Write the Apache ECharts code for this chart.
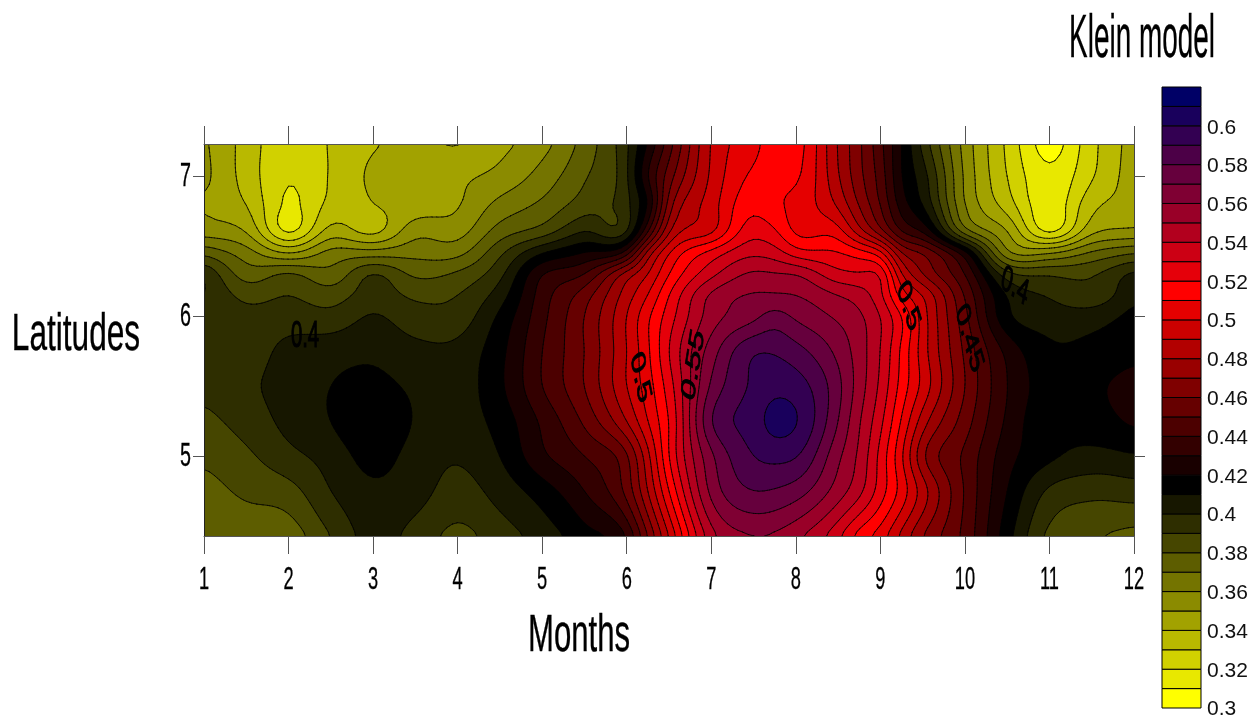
<!DOCTYPE html>
<html><head><meta charset="utf-8">
<style>html,body{margin:0;padding:0;background:#fff}#c{width:1260px;height:720px}</style>
<script src="https://cdn.jsdelivr.net/npm/echarts@6/dist/echarts.min.js"></script>
</head><body><div id="c"></div>
<script>
const months=[1,1.5,2,2.5,3,3.5,4,4.5,5,5.5,6,6.25,6.5,7,7.5,7.75,8,8.5,8.75,9,9.25,9.5,10,10.5,11,11.5,12];
const latitudes=[7.23,7.0,6.8,6.6,6.45,6.3,6.15,6.0,5.75,5.5,5.25,5.0,4.75,4.43];
const lat723=[.352,.336,.322,.331,.339,.342,.339,.347,.356,.374,.398,.421,.445,.491,.507,.515,.515,.479,.462,.443,.42,.397,.356,.328,.305,.327,.345];
const lat700=[.353,.336,.3205,.331,.342,.345,.348,.353,.364,.379,.398,.43,.455,.492,.512,.513,.512,.481,.463,.446,.42,.405,.358,.33,.312,.329,.346];
const lat680=[.35,.34,.318,.333,.34,.344,.349,.363,.372,.385,.397,.42,.465,.495,.517,.512,.507,.488,.469,.45,.425,.41,.36,.335,.313,.337,.345];
const lat660=[.356,.35,.318,.345,.337,.357,.356,.375,.385,.401,.399,.44,.48,.498,.527,.522,.508,.505,.485,.465,.44,.43,.375,.351,.318,.348,.353];
const lat645=[.378,.365,.35,.364,.365,.367,.367,.388,.41,.421,.435,.475,.50,.524,.538,.535,.525,.521,.515,.505,.47,.46,.425,.362,.36,.372,.38];
const lat630=[.40,.375,.382,.373,.391,.378,.382,.397,.43,.44,.475,.49,.51,.537,.552,.551,.55,.533,.531,.53,.49,.47,.44,.394,.389,.389,.403];
const lat615=[.401,.387,.39,.385,.395,.388,.39,.405,.435,.455,.485,.50,.52,.552,.561,.561,.56,.55,.545,.533,.505,.49,.449,.409,.399,.393,.408];
const lat600=[.398,.393,.395,.393,.401,.394,.394,.412,.437,.46,.49,.508,.525,.555,.567,.574,.568,.558,.552,.54,.52,.495,.453,.412,.405,.405,.413];
const lat575=[.395,.395,.403,.406,.408,.403,.403,.417,.44,.46,.49,.508,.53,.565,.589,.589,.584,.567,.555,.54,.518,.495,.458,.427,.412,.413,.417];
const lat550=[.393,.398,.404,.41,.413,.408,.405,.418,.44,.46,.49,.505,.525,.572,.592,.597,.595,.573,.555,.538,.516,.497,.46,.43,.415,.418,.424];
const lat525=[.387,.394,.403,.41,.4205,.409,.405,.414,.432,.452,.48,.50,.52,.58,.595,.604,.601,.57,.551,.533,.509,.485,.455,.428,.412,.415,.422];
const lat500=[.382,.388,.397,.404,.414,.406,.401,.41,.428,.44,.458,.487,.52,.568,.59,.593,.591,.562,.548,.527,.502,.472,.448,.424,.412,.407,.409];
const lat475=[.376,.382,.386,.40,.408,.404,.396,.404,.415,.43,.453,.48,.51,.563,.58,.579,.575,.555,.543,.525,.506,.485,.449,.42,.398,.393,.395];
const lat443=[.375,.373,.374,.39,.404,.396,.387,.395,.404,.416,.43,.46,.49,.546,.559,.558,.552,.532,.515,.505,.487,.47,.447,.414,.387,.381,.376];
const modelRows=[lat723,lat700,lat680,lat660,lat645,lat630,lat615,lat600,lat575,lat550,lat525,lat500,lat475,lat443];

const bandStarts=[.30,.31,.32,.33,.34,.35,.36,.37,.38,.39,.40,.41,.42,.43,.44,.45,.46,.47,.48,.49,.50,.51,.52,.53,.54,.55,.56,.57,.58,.59,.60,.61];
const bandColors=['#ffff00','#e8e800','#d1d100','#b9b900','#a2a200','#8b8b00','#747400','#5d5d00','#464600','#2e2e00','#171700','#000000',
 '#190000','#330000','#4c0000','#660000','#7f0000','#990000','#b20000','#cc0000','#e50000','#ff0000',
 '#e5000a','#cc0014','#b2001e','#990028','#7f0033','#66003d','#4c0047','#330052','#19005c','#000066'];
const monthTicks=[1,2,3,4,5,6,7,8,9,10,11,12];
const latTicks=[5,6,7];
const contourLabelText=['0.4','0.5','0.55','0.5','0.45','0.4'];
const contourLabelMonth=[2.195,6.16,6.79,9.33,10.05,10.59];
const contourLabelLat=[5.85,5.56,5.65,6.07,5.84,6.21];
const contourLabelAngle=[0,-70,74,-61,-63,-22];

const latMin=4.43, latMax=7.23;

// Smooth cubic curve through the read values, used only to draw the contour bands.
function cubicThrough(xs,ys,qs){
  const n=xs.length,h=[],d=[],m=new Array(n);
  for(let i=0;i<n-1;i++){h[i]=xs[i+1]-xs[i];d[i]=(ys[i+1]-ys[i])/h[i];}
  m[0]=d[0];m[n-1]=d[n-2];
  for(let i=1;i<n-1;i++){m[i]=(d[i-1]*h[i]+d[i]*h[i-1])/(h[i]+h[i-1]);}
  let k=0;
  return qs.map(q=>{
    while(k<n-2&&q>xs[k+1])k++;
    const t=(q-xs[k])/h[k],t2=t*t,t3=t2*t;
    return (2*t3-3*t2+1)*ys[k]+(t3-2*t2+t)*h[k]*m[k]+(-2*t3+3*t2)*ys[k+1]+(t3-t2)*h[k]*m[k+1];
  });
}
const fineX=[];for(let i=0;i<=176;i++)fineX.push(1+11*i/176);
const fineY=[];for(let j=0;j<=98;j++)fineY.push(latMax-(latMax-latMin)*j/98);
const rowsFine=modelRows.map(r=>cubicThrough(months,r,fineX));
const asc=latitudes.slice().reverse();
const fy=fineY.slice().reverse();
let field=fineY.map(()=>new Array(fineX.length));
fineX.forEach((_,i)=>{
  const col=rowsFine.map(r=>r[i]).reverse();
  const out=cubicThrough(asc,col,fy);
  out.forEach((v,j)=>{field[fineY.length-1-j][i]=v;});
});
function soften(src){
  const K=[1,2,1],H=src.length,W=src[0].length;
  const a=src.map((row,j)=>row.map((_,i)=>{
    let s=0,w=0;for(let o=-1;o<=1;o++){const ii=i+o;if(ii<0||ii>=W)continue;s+=K[o+1]*row[ii];w+=K[o+1];}return s/w;}));
  return a.map((row,j)=>row.map((_,i)=>{
    let s=0,w=0;for(let o=-1;o<=1;o++){const jj=j+o;if(jj<0||jj>=H)continue;s+=K[o+1]*a[jj][i];w+=K[o+1];}return s/w;}));
}
field=soften(soften(field));

let nodePx=null;
function getNodes(api){
  if(nodePx)return nodePx;
  nodePx=fineY.map(y=>fineX.map(x=>api.coord([x,y])));
  return nodePx;
}
const f=n=>n.toFixed(2);
function cross(a,b,va,vb,t){const k=(t-va)/(vb-va);return [a[0]+(b[0]-a[0])*k,a[1]+(b[1]-a[1])*k];}
function clipTri(pts,vals,t,fillOut,lineOut){
  const poly=[],cuts=[];
  for(let i=0;i<3;i++){
    const j=(i+1)%3;
    if(vals[i]>=t)poly.push(pts[i]);
    if((vals[i]>=t)!==(vals[j]>=t)){const c=cross(pts[i],pts[j],vals[i],vals[j],t);poly.push(c);cuts.push(c);}
  }
  if(poly.length>=3){
    fillOut.push('M'+poly.map(p=>f(p[0])+' '+f(p[1])).join('L')+'Z');
  }
  if(cuts.length===2)lineOut.push('M'+f(cuts[0][0])+' '+f(cuts[0][1])+'L'+f(cuts[1][0])+' '+f(cuts[1][1]));
}
function levelPaths(api,t){
  const P=getNodes(api),fillOut=[],lineOut=[];
  for(let j=0;j<fineY.length-1;j++){
    let run=-1;
    const flush=i=>{
      if(run<0)return;
      const a=P[j][run],b=P[j+1][i];
      fillOut.push('M'+f(a[0])+' '+f(a[1])+'L'+f(b[0])+' '+f(a[1])+'L'+f(b[0])+' '+f(b[1])+'L'+f(a[0])+' '+f(b[1])+'Z');
      run=-1;
    };
    for(let i=0;i<fineX.length-1;i++){
      const v00=field[j][i],v10=field[j][i+1],v01=field[j+1][i],v11=field[j+1][i+1];
      if(v00>=t&&v10>=t&&v01>=t&&v11>=t){if(run<0)run=i;continue;}
      flush(i);
      if(v00<t&&v10<t&&v01<t&&v11<t)continue;
      clipTri([P[j][i],P[j][i+1],P[j+1][i+1]],[v00,v10,v11],t,fillOut,lineOut);
      clipTri([P[j][i],P[j+1][i+1],P[j+1][i]],[v00,v11,v01],t,fillOut,lineOut);
    }
    flush(fineX.length-1);
  }
  return {fill:fillOut.join(''),line:lineOut.join('')};
}

const FONT='"Liberation Sans",Arial,sans-serif';
function squeezedText(text,x,y,size,sx,align){
  return {type:'text',x:x,y:y,scaleX:sx,scaleY:1,silent:true,
    style:{text:text,fontFamily:FONT,fontSize:size,fill:'#000',stroke:'#000',lineWidth:0.35,textAlign:align||'center',textVerticalAlign:'middle'}};
}
const tickColor='#555';
const bandLevels=bandStarts.map((b,i)=>[b,i]);

const option={
  animation:false,
  backgroundColor:'#fff',
  grid:[
    {left:204,top:144,width:930,height:392,show:true,backgroundColor:bandColors[0],borderWidth:0},
    {left:1162,top:87,width:39,height:621,show:false},
    {left:1162,top:89,width:39,height:621,show:false}
  ],
  xAxis:[
    {gridIndex:0,type:'value',position:'bottom',min:1,max:12,interval:1,z:10,splitLine:{show:false},axisLabel:{show:false},
      axisLine:{show:true,onZero:false,lineStyle:{color:tickColor,width:1}},axisTick:{show:true,inside:false,length:18,lineStyle:{color:tickColor,width:1}}},
    {gridIndex:0,type:'value',position:'top',min:1,max:12,interval:1,z:10,splitLine:{show:false},axisLabel:{show:false},
      axisLine:{show:true,onZero:false,lineStyle:{color:tickColor,width:1}},axisTick:{show:true,inside:false,length:18,lineStyle:{color:tickColor,width:1}}},
    {gridIndex:1,type:'value',min:0,max:1,show:false},
    {gridIndex:2,type:'value',min:0,max:1,show:false}
  ],
  yAxis:[
    {gridIndex:0,type:'value',position:'left',min:latMin,max:latMax,z:10,splitLine:{show:false},axisLabel:{show:false},
      axisLine:{show:true,onZero:false,lineStyle:{color:'#222',width:1}},axisTick:{show:true,inside:false,length:11,customValues:latTicks,lineStyle:{color:tickColor,width:1}}},
    {gridIndex:0,type:'value',position:'right',min:latMin,max:latMax,z:10,splitLine:{show:false},axisLabel:{show:false},
      axisLine:{show:true,onZero:false,lineStyle:{color:'#444',width:1}},axisTick:{show:true,inside:false,length:11,customValues:latTicks,lineStyle:{color:tickColor,width:1}}},
    {gridIndex:1,type:'value',min:.30,max:.62,show:false},
    {gridIndex:2,type:'value',position:'right',min:.30,max:.62,interval:.02,splitLine:{show:false},
      axisLine:{show:false},axisTick:{show:false},
      axisLabel:{show:true,showMaxLabel:false,margin:6,fontFamily:FONT,fontSize:21,color:'#111',formatter:v=>String(+v.toFixed(2))}}
  ],
  graphic:[
    squeezedText('Klein model',1142,40,62,0.45),
    squeezedText('Latitudes',76,336,51,0.62),
    squeezedText('Months',579,637,51,0.61)
  ],
  series:[
    {type:'custom',name:'filled bands',coordinateSystem:'cartesian2d',xAxisIndex:0,yAxisIndex:0,clip:true,silent:true,z:2,
      data:bandLevels.slice(1),encode:{x:-1,y:-1},
      renderItem:(p,api)=>{
        const idx=api.value(1),t=api.value(0);
        return {type:'path',silent:true,shape:{pathData:levelPaths(api,t).fill||'M0 0'},style:{fill:bandColors[idx],stroke:null}};
      }},
    {type:'custom',name:'contour lines',coordinateSystem:'cartesian2d',xAxisIndex:0,yAxisIndex:0,clip:true,silent:true,z:3,
      data:bandLevels.slice(1),encode:{x:-1,y:-1},
      renderItem:(p,api)=>{
        const t=api.value(0);
        return {type:'path',silent:true,shape:{pathData:levelPaths(api,t).line||'M0 0'},style:{fill:null,stroke:'#000',lineWidth:0.8,lineJoin:'round',lineCap:'round'}};
      }},
    {type:'custom',name:'contour labels',coordinateSystem:'cartesian2d',xAxisIndex:0,yAxisIndex:0,clip:false,silent:true,z:4,
      data:contourLabelText.map((s,i)=>[contourLabelMonth[i],contourLabelLat[i],i]),
      renderItem:(p,api)=>{
        const pt=api.coord([api.value(0),api.value(1)]),i=api.value(2);
        return {type:'group',x:pt[0],y:pt[1],scaleX:0.55,scaleY:1,children:[
          {type:'text',rotation:contourLabelAngle[i]*Math.PI/180,silent:true,
           style:{text:contourLabelText[i],fontFamily:FONT,fontSize:37,fill:'#000',stroke:'#000',lineWidth:1.2,textAlign:'center',textVerticalAlign:'middle'}}]};
      }},
    {type:'custom',name:'month labels',coordinateSystem:'cartesian2d',xAxisIndex:0,yAxisIndex:0,clip:false,silent:true,z:4,
      data:monthTicks.map(m=>[m,latMin]),
      renderItem:(p,api)=>{
        const pt=api.coord([api.value(0),api.value(1)]);
        return squeezedText(String(api.value(0)),pt[0],pt[1]+44,32,0.57);
      }},
    {type:'custom',name:'latitude labels',coordinateSystem:'cartesian2d',xAxisIndex:0,yAxisIndex:0,clip:false,silent:true,z:4,
      data:latTicks.map(l=>[1,l]),
      renderItem:(p,api)=>{
        const pt=api.coord([api.value(0),api.value(1)]);
        return squeezedText(String(api.value(1)),pt[0]-13,pt[1],34,0.58,'right');
      }},
    {type:'custom',name:'colour bar',coordinateSystem:'cartesian2d',xAxisIndex:2,yAxisIndex:2,clip:false,silent:true,z:2,
      data:bandLevels,encode:{y:0},
      renderItem:(p,api)=>{
        const lo=api.value(0),a=api.coord([0,lo+.01]),b=api.coord([1,lo]);
        return {type:'rect',silent:true,shape:{x:a[0],y:a[1],width:b[0]-a[0],height:b[1]-a[1]},
          style:{fill:bandColors[api.value(1)],stroke:'#000',lineWidth:1}};
      }}
  ]
};
const chart=echarts.init(document.getElementById('c'),null,{renderer:'canvas'});
chart.setOption(option);
</script>
</body></html>
